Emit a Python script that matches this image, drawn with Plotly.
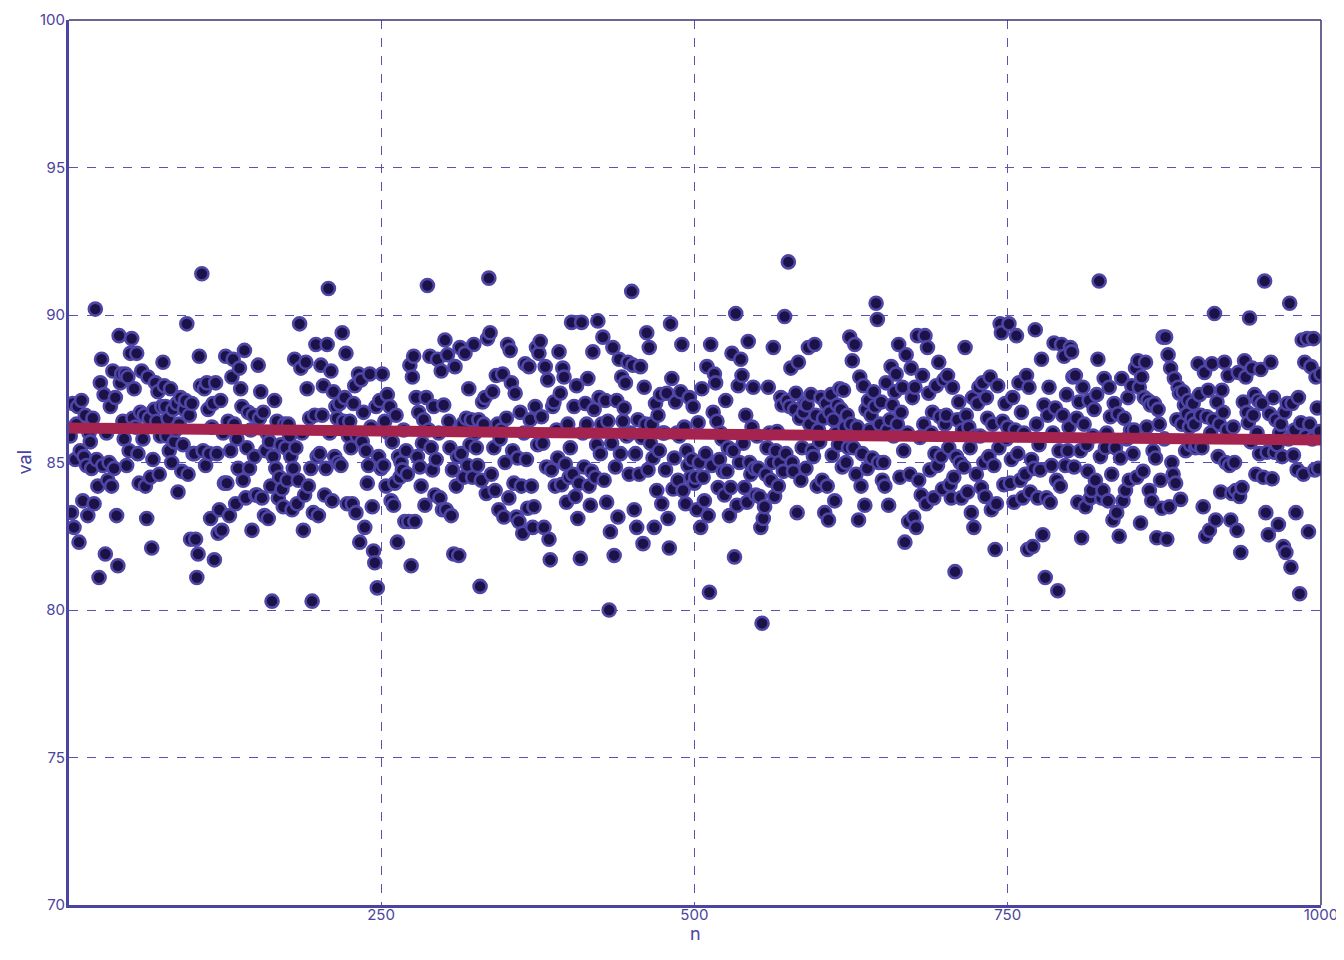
import plotly.graph_objects as go

# ---- data (val for n = 1..1000, in blocks of 25) ----
val_001_025 = [86.0, 85.9, 83.3, 87.0, 82.8, 85.1, 86.3, 86.9, 82.3, 85.4, 87.1, 83.7, 85.2, 86.6, 84.9, 83.2, 86.0, 85.7, 84.8, 86.5, 83.6, 90.2, 85.1, 84.2, 81.1]
val_026_050 = [87.7, 88.5, 84.9, 87.3, 81.9, 86.0, 84.4, 85.0, 86.9, 84.2, 88.1, 84.8, 87.2, 83.2, 81.5, 89.3, 87.7, 88.0, 86.4, 85.8, 88.0, 84.9, 87.9, 85.4, 88.7]
val_051_075 = [89.2, 86.5, 87.5, 86.2, 88.7, 85.3, 84.3, 86.7, 88.1, 85.8, 86.6, 84.2, 83.1, 87.9, 86.5, 84.5, 82.1, 85.1, 86.8, 87.7, 86.4, 87.4, 84.6, 85.9, 86.9]
val_076_100 = [88.4, 87.6, 86.9, 85.9, 86.5, 85.4, 87.5, 85.0, 86.8, 85.7, 86.1, 87.0, 84.0, 86.3, 87.2, 84.7, 85.6, 86.8, 87.1, 89.7, 84.6, 86.6, 82.4, 87.0, 85.3]
val_101_125 = [85.3, 82.4, 81.1, 81.9, 88.6, 87.6, 91.4, 85.4, 87.5, 84.9, 87.7, 86.8, 85.3, 83.1, 86.2, 87.0, 81.7, 87.7, 85.3, 82.6, 83.4, 87.1, 82.7, 86.0, 84.3]
val_126_150 = [88.6, 84.3, 86.4, 83.2, 85.4, 87.9, 88.5, 86.3, 83.6, 85.8, 84.8, 88.2, 87.5, 86.9, 84.4, 88.8, 83.8, 85.5, 86.7, 84.8, 86.1, 82.7, 86.6, 85.2, 83.9]
val_151_175 = [83.9, 88.3, 86.5, 87.4, 83.8, 86.7, 83.2, 85.4, 86.0, 83.1, 85.7, 84.2, 80.3, 85.2, 87.1, 84.8, 86.4, 83.8, 84.5, 85.6, 84.1, 83.5, 86.3, 85.5, 84.4]
val_176_200 = [86.3, 85.9, 85.2, 83.4, 84.8, 88.5, 85.5, 83.6, 84.4, 89.7, 88.2, 86.0, 82.7, 83.9, 88.4, 87.5, 84.2, 86.5, 84.8, 80.3, 83.3, 86.6, 89.0, 85.2, 83.2]
val_201_225 = [85.3, 88.3, 86.6, 87.6, 83.9, 84.8, 89.0, 90.9, 86.0, 88.1, 83.7, 87.4, 85.2, 86.9, 86.5, 85.0, 87.0, 84.9, 89.4, 86.4, 87.2, 88.7, 83.6, 85.9, 86.4]
val_226_250 = [85.5, 83.6, 87.0, 87.6, 83.3, 85.9, 88.0, 82.3, 87.8, 85.7, 86.7, 82.8, 85.4, 84.3, 84.9, 88.0, 86.2, 83.5, 82.0, 81.6, 86.9, 80.75, 85.2, 87.1, 84.8]
val_251_275 = [88.0, 84.9, 86.4, 84.2, 87.3, 86.0, 86.9, 83.7, 85.7, 83.55, 84.3, 86.6, 82.3, 85.2, 84.5, 85.0, 84.75, 86.1, 83.0, 85.4, 84.6, 83.0, 88.3, 81.5, 87.9]
val_276_300 = [88.6, 83.0, 87.2, 85.2, 86.7, 84.85, 84.2, 85.65, 86.45, 83.55, 87.2, 91.0, 86.1, 88.6, 85.5, 84.75, 86.9, 83.9, 85.1, 88.5, 86.0, 83.8, 88.1, 83.4, 86.95]
val_301_325 = [89.15, 83.4, 88.65, 86.4, 85.5, 83.2, 84.75, 81.9, 88.25, 84.2, 85.2, 81.85, 88.9, 85.3, 86.3, 84.5, 88.7, 86.5, 84.9, 87.5, 85.6, 86.45, 84.5, 89.0, 86.0]
val_326_350 = [85.5, 84.9, 86.45, 80.8, 84.4, 87.05, 86.3, 87.2, 83.95, 89.2, 91.25, 89.4, 84.6, 87.4, 85.5, 84.05, 87.95, 86.3, 83.4, 85.8, 86.1, 88.0, 83.15, 85.0, 86.5]
val_351_375 = [89.0, 83.8, 88.8, 87.7, 85.4, 84.3, 87.35, 83.15, 85.15, 83.0, 86.7, 84.2, 82.6, 86.0, 88.35, 85.1, 83.45, 88.25, 86.45, 84.2, 82.8, 83.5, 86.9, 88.9, 85.6]
val_376_400 = [88.7, 89.1, 86.55, 85.65, 82.8, 88.25, 84.85, 87.8, 82.4, 81.7, 84.75, 86.9, 87.05, 84.2, 86.1, 85.15, 88.75, 87.35, 84.25, 88.2, 87.9, 84.95, 83.65, 86.3, 84.5]
val_401_425 = [85.5, 89.75, 84.6, 86.9, 83.85, 87.6, 83.1, 84.3, 81.75, 89.75, 86.0, 84.85, 87.0, 86.3, 87.85, 84.2, 83.55, 84.7, 88.75, 86.8, 84.5, 85.6, 89.8, 87.2, 85.3]
val_426_450 = [86.3, 89.25, 84.4, 87.1, 83.65, 86.4, 80.0, 82.65, 85.65, 88.9, 81.85, 84.85, 87.1, 83.15, 88.5, 85.3, 87.9, 86.4, 86.85, 87.7, 85.9, 88.4, 84.6, 86.0, 90.8]
val_451_475 = [88.3, 83.4, 85.3, 82.8, 86.45, 84.6, 88.25, 85.85, 82.25, 87.55, 86.3, 89.4, 84.75, 88.9, 85.65, 86.3, 85.15, 82.8, 87.0, 84.05, 86.6, 85.4, 87.3, 83.6, 86.0]
val_476_500 = [86.0, 84.75, 87.35, 83.1, 82.1, 89.7, 87.85, 84.1, 85.15, 87.05, 86.0, 84.4, 85.9, 87.4, 89.0, 84.05, 86.2, 83.6, 85.4, 84.9, 87.2, 84.5, 85.1, 86.9, 84.3]
val_501_525 = [84.5, 83.4, 86.35, 85.0, 82.8, 87.5, 84.5, 83.7, 85.3, 88.25, 83.2, 80.6, 89.0, 84.9, 86.7, 88.0, 87.7, 86.4, 84.15, 85.1, 86.0, 85.8, 84.7, 83.9, 87.1]
val_526_550 = [84.7, 85.5, 83.2, 84.15, 88.7, 85.4, 81.8, 90.05, 83.55, 87.6, 85.0, 88.5, 87.95, 85.65, 84.15, 86.6, 83.65, 89.1, 85.0, 84.6, 86.2, 87.55, 84.8, 83.9, 85.9]
val_551_575 = [84.8, 83.85, 82.8, 79.55, 83.1, 83.5, 84.6, 85.5, 87.55, 86.0, 84.4, 85.0, 88.9, 83.85, 85.4, 86.05, 84.2, 85.0, 87.2, 86.95, 84.7, 89.95, 85.3, 87.1, 91.8]
val_576_600 = [86.9, 88.2, 85.0, 84.7, 86.8, 87.35, 83.3, 88.4, 86.5, 84.4, 85.5, 86.7, 87.0, 84.8, 86.95, 88.9, 86.3, 87.3, 85.4, 85.2, 89.0, 86.6, 84.2, 86.1, 85.7]
val_601_625 = [87.2, 84.4, 86.5, 83.3, 87.0, 84.2, 83.05, 86.7, 87.3, 85.25, 86.45, 83.7, 86.0, 86.95, 85.6, 87.5, 86.8, 84.85, 87.45, 86.2, 85.0, 86.6, 85.5, 89.25, 86.3]
val_626_650 = [88.45, 85.5, 89.0, 84.6, 86.2, 83.05, 87.9, 84.2, 85.3, 87.6, 83.55, 86.8, 84.8, 87.1, 86.1, 86.6, 85.15, 87.4, 86.9, 90.4, 89.85, 85.0, 86.3, 87.05, 84.4]
val_651_675 = [85.0, 84.2, 87.7, 86.1, 83.55, 86.45, 88.25, 86.95, 85.9, 87.4, 88.0, 86.3, 89.0, 84.5, 86.7, 87.55, 85.4, 82.3, 88.65, 86.0, 83.0, 84.6, 88.2, 87.2, 83.15]
val_676_700 = [87.55, 82.8, 89.3, 84.4, 85.85, 83.9, 87.95, 86.3, 89.3, 83.6, 88.9, 87.35, 84.75, 86.0, 86.7, 83.8, 85.3, 87.6, 84.9, 88.4, 86.55, 85.2, 84.1, 87.8, 86.3]
val_701_725 = [86.6, 87.95, 85.5, 84.25, 83.8, 87.55, 84.5, 81.3, 85.2, 86.45, 87.05, 85.0, 83.8, 86.1, 84.85, 88.9, 86.6, 84.0, 86.2, 85.5, 83.3, 87.2, 82.8, 85.9, 84.6]
val_726_750 = [87.0, 87.55, 85.9, 84.15, 87.7, 85.0, 83.85, 87.2, 86.5, 85.2, 87.9, 83.4, 86.3, 84.9, 82.05, 83.6, 87.6, 85.5, 89.7, 89.4, 86.4, 84.25, 87.0, 85.8, 86.2]
val_751_775 = [89.7, 84.3, 85.1, 87.2, 83.65, 86.1, 89.3, 85.3, 87.7, 84.4, 86.7, 83.8, 86.0, 84.6, 87.95, 82.05, 87.55, 84.0, 85.1, 82.15, 84.8, 89.5, 86.3, 83.8, 85.6]
val_776_800 = [84.75, 88.5, 82.55, 86.95, 81.1, 83.8, 86.6, 87.55, 83.65, 84.9, 86.0, 89.05, 86.85, 84.4, 80.65, 85.4, 84.2, 89.0, 86.6, 88.6, 84.9, 87.3, 85.4, 86.2, 88.9]
val_801_825 = [88.75, 87.9, 84.85, 87.95, 86.5, 83.65, 87.05, 85.4, 82.45, 87.55, 86.3, 83.5, 85.6, 84.7, 87.1, 83.8, 84.05, 85.9, 86.8, 84.4, 87.3, 88.5, 91.15, 85.2, 83.8]
val_826_850 = [84.05, 87.85, 85.5, 86.0, 83.7, 87.55, 86.55, 84.6, 83.05, 87.0, 85.5, 83.3, 86.65, 82.5, 85.15, 87.85, 83.7, 86.5, 84.05, 85.8, 87.2, 84.4, 86.1, 87.6, 85.3]
val_851_875 = [86.1, 88.2, 84.5, 88.45, 87.55, 82.95, 87.9, 84.7, 87.2, 88.4, 86.2, 87.1, 84.05, 86.95, 83.7, 85.4, 87.0, 85.15, 82.45, 86.8, 86.3, 84.4, 83.45, 89.25, 85.8]
val_876_900 = [89.25, 82.4, 88.65, 83.5, 88.2, 85.0, 84.6, 87.85, 84.3, 86.45, 87.55, 87.35, 83.75, 86.3, 87.4, 86.95, 85.4, 86.65, 87.1, 86.2, 85.6, 86.5, 87.0, 86.3, 85.5]
val_901_925 = [85.6, 88.35, 87.3, 86.6, 85.5, 83.5, 88.05, 82.5, 86.55, 87.45, 82.7, 86.0, 88.35, 86.45, 90.05, 83.05, 87.05, 85.2, 86.3, 84.0, 87.45, 86.7, 88.4, 85.0, 86.1]
val_926_950 = [87.95, 84.9, 83.05, 83.95, 86.2, 85.0, 84.05, 82.7, 88.05, 83.85, 81.95, 84.15, 87.05, 88.45, 87.9, 86.7, 86.35, 89.9, 85.7, 88.2, 86.6, 87.3, 84.6, 86.0, 87.1]
val_951_975 = [85.3, 88.15, 87.0, 84.5, 91.15, 83.3, 85.35, 82.55, 86.65, 88.4, 84.45, 87.2, 85.35, 86.45, 85.6, 82.9, 86.0, 86.3, 85.2, 82.15, 86.7, 81.95, 87.0, 85.8, 90.4]
val_976_1000 = [81.45, 87.0, 85.25, 86.1, 83.3, 84.75, 87.2, 80.55, 86.35, 89.15, 84.6, 88.4, 85.9, 89.2, 82.65, 86.3, 88.25, 85.8, 89.2, 84.75, 87.9, 86.85, 84.8, 86.05, 88.0]

val_blocks = [
    val_001_025, val_026_050, val_051_075, val_076_100, val_101_125, val_126_150,
    val_151_175, val_176_200, val_201_225, val_226_250, val_251_275, val_276_300,
    val_301_325, val_326_350, val_351_375, val_376_400, val_401_425, val_426_450,
    val_451_475, val_476_500, val_501_525, val_526_550, val_551_575, val_576_600,
    val_601_625, val_626_650, val_651_675, val_676_700, val_701_725, val_726_750,
    val_751_775, val_776_800, val_801_825, val_826_850, val_851_875, val_876_900,
    val_901_925, val_926_950, val_951_975, val_976_1000,
]
val = [v for block in val_blocks for v in block]
n = list(range(1, len(val) + 1))

# trend line (value at n=1 and n=1000)
trend_n = [1, 1000]
trend_val = [86.17, 85.76]

x_ticks = [250, 500, 750, 1000]
y_ticks = [70, 75, 80, 85, 90, 95, 100]

AXIS = "#4b44a0"
GRID = "#5a52b4"
FONT = "Inter, Roboto, sans-serif"

fig = go.Figure()
fig.add_trace(go.Scatter(
    x=n, y=val, mode="markers",
    marker=dict(size=13, color="#1c1248", line=dict(color="#4e46a6", width=2.6)),
    showlegend=False, hoverinfo="skip",
))
fig.add_trace(go.Scatter(
    x=trend_n, y=trend_val, mode="lines",
    line=dict(color="#a5234f", width=11),
    showlegend=False, hoverinfo="skip",
))

fig.update_layout(
    width=1336, height=952,
    margin=dict(l=61, r=23, t=12, b=55),
    paper_bgcolor="white", plot_bgcolor="white",
    font=dict(family=FONT, color=AXIS, size=15),
    xaxis=dict(
        range=[1, 1000], tickvals=x_ticks, ticktext=[str(t) for t in x_ticks],
        showgrid=True, gridcolor=GRID, griddash="dash", gridwidth=1,
        zeroline=False, showline=True, linecolor=AXIS, linewidth=3,
        ticks="", ticklen=0, automargin=False, ticklabelstandoff=-6,
        tickfont=dict(size=15, color=AXIS),
    ),
    yaxis=dict(
        range=[70, 100], tickvals=y_ticks, ticktext=[str(t) for t in y_ticks],
        showgrid=True, gridcolor=GRID, griddash="dash", gridwidth=1,
        zeroline=False, showline=True, linecolor=AXIS, linewidth=3,
        ticks="", ticklen=0, automargin=False, ticklabelstandoff=-2,
        tickfont=dict(size=15, color=AXIS),
    ),
    annotations=[
        dict(text="n", xref="paper", yref="paper", x=0.5, y=0, yshift=-28,
             xanchor="center", yanchor="middle", showarrow=False,
             font=dict(size=18, color=AXIS, family=FONT)),
        dict(text="val", xref="paper", yref="paper", x=0, y=0.5, xshift=-45,
             xanchor="center", yanchor="middle", showarrow=False, textangle=-90,
             font=dict(size=18, color=AXIS, family=FONT)),
    ],
    shapes=[
        dict(type="line", xref="paper", yref="paper", x0=0, x1=1, y0=1, y1=1,
             line=dict(color="#3a3572", width=1.5)),
        dict(type="line", xref="paper", yref="paper", x0=1, x1=1, y0=0, y1=1,
             line=dict(color="#3a3572", width=1.5)),
    ],
)

fig.write_html("out.html")
